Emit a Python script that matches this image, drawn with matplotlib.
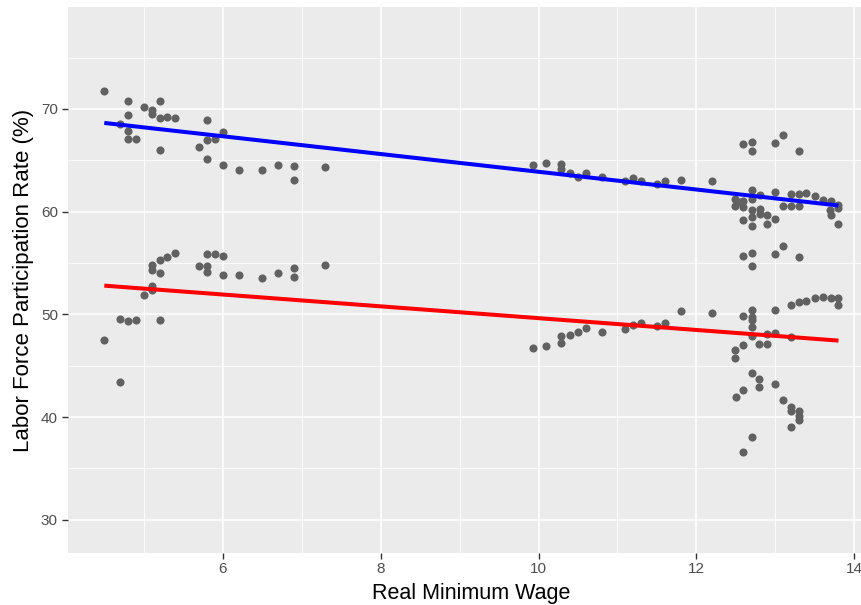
import numpy as np
import matplotlib
matplotlib.use("Agg")
import matplotlib.pyplot as plt
from matplotlib.ticker import MultipleLocator

# Real minimum wage vs labour force participation, two groups
upper_wage = [
    4.5, 4.7, 4.8, 4.8, 4.8, 4.8, 4.9, 5.0, 5.1, 5.1, 5.2, 5.2, 5.2, 5.3, 5.4,
    5.7, 5.8, 5.8, 5.8, 5.9, 6.0, 6.0, 6.2, 6.5, 6.7, 6.9, 6.9, 7.3,
    9.93, 10.1, 10.29, 10.29, 10.4, 10.5, 10.6, 10.8, 11.1, 11.2, 11.3, 11.5,
    11.6, 11.8, 12.2,
    12.49, 12.49, 12.55, 12.59, 12.59, 12.59, 12.59, 12.59,
    12.7, 12.7, 12.7, 12.7, 12.7, 12.7, 12.7, 12.7, 12.7,
    12.8, 12.8, 12.8, 12.9, 12.9, 12.99, 12.99, 12.99, 12.99,
    13.1, 13.1, 13.1, 13.2, 13.2, 13.3, 13.3, 13.3, 13.3,
    13.39, 13.5, 13.6, 13.7, 13.69, 13.7, 13.79, 13.79, 13.79,
]
upper_rate = [
    71.7, 68.5, 70.8, 69.4, 67.85, 67.1, 67.1, 70.2, 69.9, 69.55, 70.75, 69.1, 66.0, 69.25, 69.1,
    66.3, 68.9, 67.0, 65.1, 67.1, 67.75, 64.5, 64.1, 64.1, 64.5, 64.4, 63.05, 64.35,
    64.58, 64.78, 64.68, 64.19, 63.8, 63.37, 63.76, 63.37, 62.98, 63.31, 62.98, 62.73,
    62.98, 63.05, 62.98,
    61.27, 60.6, 60.9, 61.0, 60.45, 59.15, 66.56, 55.64,
    66.78, 65.88, 62.14, 61.27, 60.2, 59.47, 58.57, 55.96, 54.74,
    61.59, 60.3, 59.8, 59.64, 58.76, 66.69, 61.91, 59.32, 55.9,
    67.44, 60.6, 56.62, 61.69, 60.6, 65.9, 61.69, 60.6, 55.57,
    61.85, 61.49, 61.17, 61.03, 60.2, 59.64, 60.68, 58.83, 60.4,
]

lower_wage = [
    4.5, 4.7, 4.7, 4.8, 4.9, 5.0, 5.1, 5.1, 5.1, 5.1, 5.2, 5.2, 5.2, 5.3, 5.4,
    5.7, 5.8, 5.8, 5.8, 5.9, 6.0, 6.0, 6.2, 6.5, 6.7, 6.9, 6.9, 7.3,
    9.93, 10.1, 10.29, 10.29, 10.4, 10.5, 10.6, 10.8, 11.1, 11.2, 11.3, 11.5,
    11.6, 11.8, 12.2,
    12.49, 12.49, 12.5, 12.59, 12.59, 12.59, 12.59,
    12.7, 12.7, 12.7, 12.7, 12.7, 12.7, 12.7,
    12.79, 12.79, 12.79, 12.89, 12.89, 12.99, 12.99, 12.99,
    13.1, 13.2, 13.2, 13.2, 13.2, 13.2, 13.3, 13.3, 13.3, 13.3,
    13.39, 13.5, 13.6, 13.7, 13.79, 13.79,
]
lower_rate = [
    47.55, 43.4, 49.57, 49.4, 49.47, 51.9, 52.75, 52.33, 54.77, 54.35, 54.05, 55.3, 49.47, 55.57, 55.96,
    54.7, 54.7, 54.1, 55.84, 55.9, 55.67, 53.86, 53.8, 53.53, 54.05, 54.54, 53.63, 54.83,
    46.7, 46.97, 47.2, 47.88, 48.04, 48.27, 48.66, 48.27, 48.6, 48.99, 49.18, 48.92,
    49.18, 50.38, 50.16,
    46.55, 45.77, 41.93, 49.89, 47.04, 42.65, 36.57,
    50.45, 49.73, 49.41, 48.82, 47.85, 44.31, 38.1,
    47.13, 43.72, 42.97, 48.1, 47.13, 50.45, 48.2, 43.24,
    41.71, 50.87, 47.78, 41.02, 40.63, 39.0, 51.19, 40.63, 40.14, 39.73,
    51.3, 51.6, 51.67, 51.58, 51.62, 50.87,
]

# linear trend for each group, evaluated at the ends of the wage range
fit_wage = [4.5, 13.8]
upper_fit = [68.64, 60.6]
lower_fit = [52.8, 47.45]

x_ticks = [6, 8, 10, 12, 14]
y_ticks = [30, 40, 50, 60, 70]

plt.rcParams["font.family"] = ["Liberation Sans", "DejaVu Sans"]

fig = plt.figure(figsize=(8.61, 6.05), dpi=100)
ax = fig.add_axes([0.0785, 0.0864, 0.938, 0.9016])
ax.set_facecolor("#EBEBEB")

ax.scatter(upper_wage, upper_rate, s=34, color="#616161", linewidths=0, zorder=3)
ax.scatter(lower_wage, lower_rate, s=34, color="#616161", linewidths=0, zorder=3)

ax.plot(fit_wage, upper_fit, color="blue", lw=2.9, zorder=4, solid_capstyle="butt")
ax.plot(fit_wage, lower_fit, color="red", lw=2.9, zorder=4, solid_capstyle="butt")

ax.set_xlim(4.035, 14.265)
ax.set_ylim(26.8, 79.9)
ax.set_xticks(x_ticks)
ax.set_yticks(y_ticks)
ax.xaxis.set_minor_locator(MultipleLocator(1))
ax.yaxis.set_minor_locator(MultipleLocator(5))
ax.grid(which="major", color="white", lw=1.1)
ax.grid(which="minor", color="white", lw=0.55)
ax.set_axisbelow(True)
for s in ax.spines.values():
    s.set_visible(False)

ax.tick_params(which="major", length=4, width=1.0, color="#333333",
               labelcolor="#4D4D4D", labelsize=11, pad=3)
ax.tick_params(which="minor", length=0)

ax.set_xlabel("Real Minimum Wage", fontsize=15.5, color="black", labelpad=5)
ax.set_ylabel("Labor Force Participation Rate (%)", fontsize=16, color="black", labelpad=5)

fig.savefig("out.png", dpi=100)
